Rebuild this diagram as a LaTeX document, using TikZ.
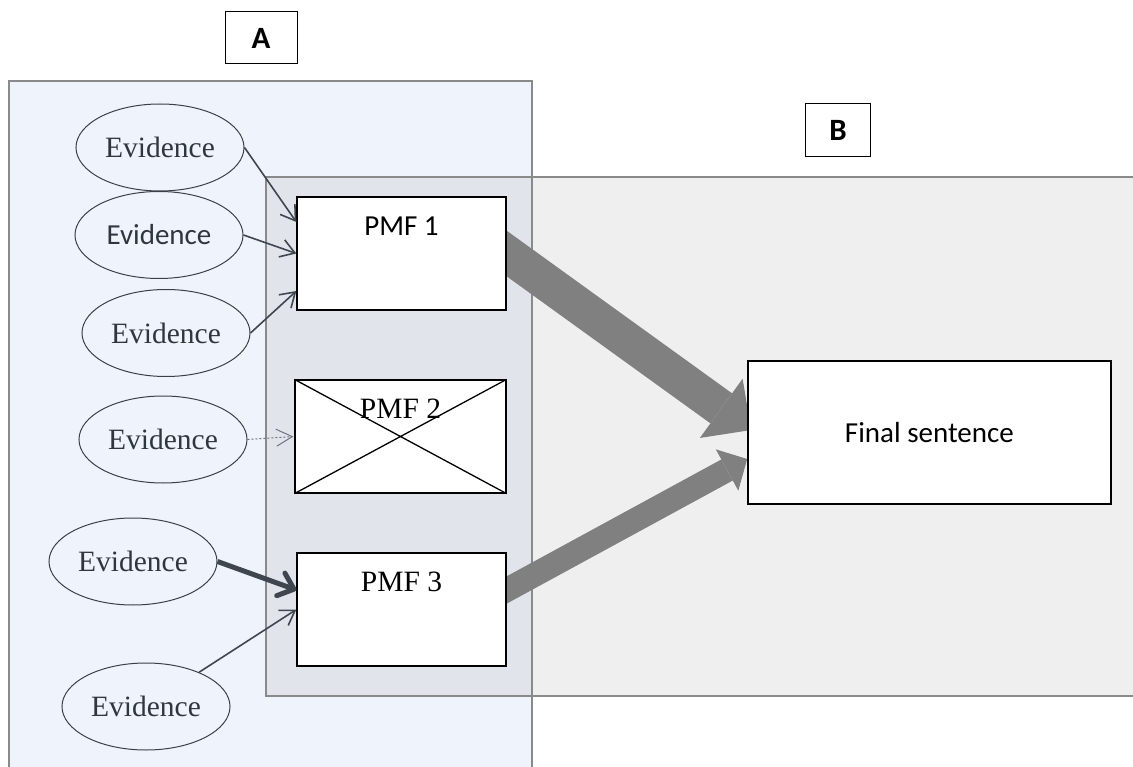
\documentclass[tikz,border=0pt]{standalone}
\usepackage{fontspec}
\setmainfont{Liberation Serif}
\setsansfont{Carlito}
\usetikzlibrary{positioning, arrows.meta, shapes, calc}
\pgfdeclarelayer{back}
\pgfdeclarelayer{flow}
\pgfsetlayers{back,flow,main}
\definecolor{paneA}{RGB}{239,243,251}
\definecolor{paneB}{RGB}{239,239,239}
\definecolor{paneAB}{RGB}{225,229,235}
\definecolor{paneline}{RGB}{138,138,138}
\definecolor{flowgray}{RGB}{128,128,128}
\definecolor{evline}{RGB}{58,64,74}
\definecolor{evtext}{RGB}{48,54,64}
\definecolor{linkgray}{RGB}{64,70,80}
\definecolor{dashgray}{RGB}{110,116,126}
\newcommand{\bigserif}{\rmfamily\fontsize{29.5}{34}\selectfont}
\newcommand{\bigsans}{\sffamily\fontsize{29}{34}\selectfont}

\begin{document}
\begin{tikzpicture}[x=1pt, y=-1pt,
    evid/.style={shape=ellipse, draw=evline, line width=1pt, text=evtext, minimum width=168pt, minimum height=87pt, inner sep=0pt, font=\bigserif},
    pmf/.style={draw, fill=white, line width=1.3pt, minimum width=209pt, inner sep=0pt, text height=38.5pt, text depth=74.5pt, font=\bigserif},
    tag/.style={draw, fill=white, line width=1pt, inner sep=0pt, font=\sffamily\bfseries\fontsize{31}{34}\selectfont},
    link/.style={draw=linkgray, line width=1.6pt, -{Straight Barb[length=14pt, width=18pt]}},
    flowarrow/.style={draw=flowgray, line width=37pt, -{Triangle[length=37pt, width=73pt, line width=0pt]}}]
    \useasboundingbox (0,0) rectangle (1133,767);
    % panels A and B
    \begin{pgfonlayer}{back}
        \fill[paneA] (8.6,81) rectangle (532,767);
        \fill[paneB] (266,177) rectangle (1133,696);
        \fill[paneAB] (266,177) rectangle (532,696);
        \draw[paneline, line width=2pt] (8.6,767) -- (8.6,81) -- (532,81) -- (532,767);
        \draw[paneline, line width=2pt] (1133,177) -- (266,177) -- (266,696) -- (1133,696);
    \end{pgfonlayer}
    \node[tag, minimum width=72pt, minimum height=52pt] (tagA) at (261,38) {A};
    \node[tag, minimum width=65pt, minimum height=53pt] (tagB) at (838,130.5) {B};
    % evidence
    \node[evid] (ev1) at (160,147.5) {Evidence};
    \node[evid, font=\bigsans] (ev2) at (159,235) {Evidence};
    \node[evid] (ev3) at (166,333) {Evidence};
    \node[evid] (ev4) at (163,439.5) {Evidence};
    \node[evid] (ev5) at (133,561.5) {Evidence};
    \node[evid] (ev6) at (146,706.5) {Evidence};
    % PMFs
    \node[pmf, font=\bigsans] (pmf1) at (401.5,253.5) {PMF 1};
    \node[pmf, minimum width=211pt] (pmf2) at (400.5,436.5) {PMF 2};
    \node[pmf] (pmf3) at (401.5,609.5) {PMF 3};
    \draw[line width=1.3pt] (pmf2.north west) -- (pmf2.south east) (pmf2.south west) -- (pmf2.north east);
    \node[draw, fill=white, line width=1.3pt, minimum width=363pt, minimum height=143pt, font=\bigsans] (final) at (929.4,432.5) {Final sentence};
    % links
    \draw[link] (ev1.east) -- ([yshift=31.5pt]pmf1.west);
    \draw[link] (ev2.east) -- (pmf1.west);
    \draw[link] (ev3.east) -- ([yshift=-37.5pt]pmf1.west);
    \draw[link, draw=dashgray, line width=1pt, dash pattern=on 2pt off 2pt, -{Straight Barb[length=16pt, width=17pt, sep=1pt]}] (ev4.east) -- (pmf2.west);
    \draw[link, line width=5pt, -{Straight Barb[length=14pt, width=24pt, round]}] (ev5.east) -- ([yshift=19.5pt]pmf3.west);
    \draw[link] (ev6) -- (pmf3.west);
    % to final sentence
    \coordinate (in1) at ([xshift=4pt, yshift=2.5pt]final.west);
    \coordinate (in2) at ([yshift=-26.5pt]final.west);
    \coordinate (out2) at ([yshift=19.5pt]pmf3.east);
    \begin{pgfonlayer}{flow}
        \draw[flowarrow] ($(pmf1.east)!-30pt!(in1)$) -- (in1);
        \draw[flowarrow, line width=24pt, -{Triangle[length=23pt, width=47pt, line width=0pt]}] ($(out2)!-30pt!(in2)$) -- (in2);
    \end{pgfonlayer}
\end{tikzpicture}
\end{document}
